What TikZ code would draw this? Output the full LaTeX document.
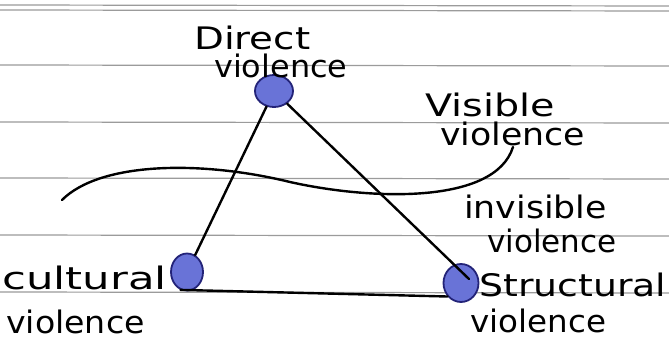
\documentclass[tikz,border=0pt]{standalone}
\usepackage{fontspec}
\setmainfont{DejaVu Sans}
\usetikzlibrary{shapes.geometric,calc}
\definecolor{dotfill}{RGB}{105,115,215}
\definecolor{dotedge}{RGB}{35,35,120}
\definecolor{rulegray}{RGB}{155,155,155}
\tikzset{
  rule/.style={draw=rulegray, line width=1.2pt},
  pen/.style={draw=black, line width=2.4pt, line cap=round},
  dot/.style={ellipse, draw=dotedge, line width=1.8pt, fill=dotfill, inner sep=0pt},
  hw/.style={inner sep=0pt, anchor=base west, font=\fontsize{31}{33}\selectfont},
}
\newcommand{\hwx}[2]{\scalebox{#1}[1]{#2}}
\begin{document}
\begin{tikzpicture}[x=1pt,y=-1pt]
  \fill[white] (0,0) rectangle (669,347);
  \useasboundingbox (0,0) rectangle (669,347);
  % ruled lines
  \foreach \yy in {5,10,65,122,178,235,292}
    \draw[rule] (0,\yy) -- (669,\yy+1);
  % wavy separator
  \draw[pen] (62,200) .. controls (100,162) and (200,160) .. (290,182)
             .. controls (370,200) and (495,205) .. (513,147);
  % points
  \node[dot, minimum width=38pt, minimum height=32pt] (D) at (274,91) {};
  \node[dot, minimum width=32pt, minimum height=37pt] (C) at (187,272) {};
  \node[dot, minimum width=35pt, minimum height=38pt] (S) at (461,283) {};
  \coordinate (Send) at ($(S.center)+(8,-4)$);
  % triangle edges
  \draw[pen] (D) -- (C);
  \draw[pen] (D) -- (Send);
  \draw[pen] (C.250) -- (S.225);
  % labels
  \node[hw] (d1) at (194,50) {\hwx{1.25}{Direct}};
  \node[hw] (d2) at (214,78) {\hwx{1.03}{violence}};
  \node[hw] (v1) at (425,117) {\hwx{1.28}{Visible}};
  \node[hw] (v2) at (440,146) {\hwx{1.12}{violence}};
  \node[hw] (i1) at (464,219) {\hwx{1.12}{invisible}};
  \node[hw] (i2) at (487,253) {\hwx{1.0}{violence}};
  \node[hw] (s1) at (479,296) {\hwx{1.22}{Structural}};
  \node[hw] (s2) at (470,332) {\hwx{1.05}{violence}};
  \node[hw] (c1) at (2,290) {\hwx{1.4}{cultural}};
  \node[hw] (c2) at (6,333) {\hwx{1.07}{violence}};
\end{tikzpicture}
\end{document}
